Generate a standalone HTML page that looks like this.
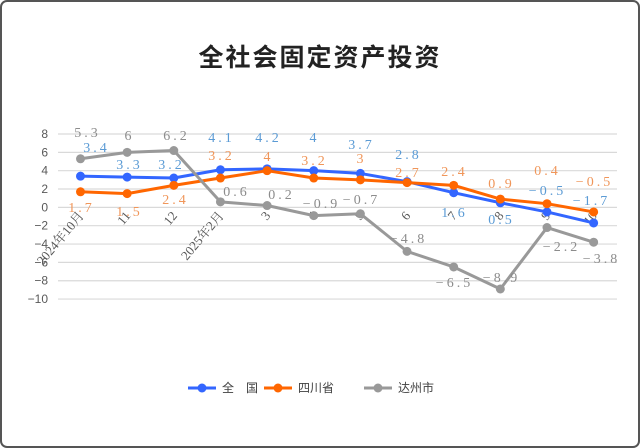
<!DOCTYPE html>
<html><head><meta charset="utf-8"><style>
body{margin:0;background:#fff}
svg{display:block;font-family:"Liberation Sans","Noto Sans CJK SC",sans-serif}
</style></head><body>
<svg width="640" height="448" viewBox="0 0 640 448" xmlns="http://www.w3.org/2000/svg">
<rect x="1" y="1" width="638" height="446" rx="6" fill="#fff" stroke="#555" stroke-width="2"/>
<text x="320" y="66" text-anchor="middle" font-size="25" font-weight="bold" fill="#222" font-family="'Noto Sans CJK SC',sans-serif" letter-spacing="2">全社会固定资产投资</text>
<g id="grid" stroke="#d9d9d9" stroke-width="1.2"></g>
<g id="ylab" font-size="12" fill="#595959" text-anchor="end"></g>
<g id="xlab" font-size="13" fill="#595959" text-anchor="end" font-family="'Liberation Serif','Noto Serif CJK SC',serif"></g>
<g id="series"></g>
<g id="labels" font-size="14" letter-spacing="3" font-family="'Liberation Serif','Noto Serif CJK SC',serif"></g>
<g font-size="12" fill="#404040">
<line x1="188" y1="388" x2="216" y2="388" stroke="#3366FF" stroke-width="3"/><circle cx="202" cy="388" r="4.5" fill="#3366FF"/>
<text x="222" y="392" font-family="'Noto Sans CJK SC',sans-serif">全　国</text>
<line x1="264" y1="388" x2="292" y2="388" stroke="#FF6600" stroke-width="3"/><circle cx="278" cy="388" r="4.5" fill="#FF6600"/>
<text x="298" y="392" font-family="'Noto Sans CJK SC',sans-serif">四川省</text>
<line x1="364" y1="388" x2="392" y2="388" stroke="#999" stroke-width="3"/><circle cx="378" cy="388" r="4.5" fill="#999"/>
<text x="398" y="392" font-family="'Noto Sans CJK SC',sans-serif">达州市</text>
</g>
</svg>
<script>
const NS="http://www.w3.org/2000/svg";
function el(p,t,a,txt){const e=document.createElementNS(NS,t);for(const k in a)e.setAttribute(k,a[k]);if(txt!==undefined)e.textContent=txt;document.getElementById(p).appendChild(e);return e;}
const Y=v=>134+(8-v)*9.17;
const X=i=>80.5+i*46.65;
for(let v=8;v>=-10;v-=2){el("grid","line",{x1:58,x2:617,y1:Y(v),y2:Y(v)});el("ylab","text",{x:48,y:Y(v)+4},v<0?"−"+(-v):v);}
const cats=["2024年10月","11","12","2025年2月","3","4","5","6","7","8","9","10"];
cats.forEach((c,i)=>el("xlab","text",{x:X(i)+4,y:216,transform:`rotate(-50 ${X(i)+4} 216)`},c));
const S=[
{c:"#3366FF",lc:"#5B9BD5",d:[3.4,3.3,3.2,4.1,4.2,4,3.7,2.8,1.6,0.5,-0.5,-1.7],
 L:[[95,147],[128,164],[170,164],[220,137],[267,137],[313,137],[360,144],[407,154],[453,212],[500,219],[546,190],[590,200]]},
{c:"#FF6600",lc:"#F0965A",d:[1.7,1.5,2.4,3.2,4,3.2,3,2.7,2.4,0.9,0.4,-0.5],
 L:[[80,207],[128,211],[174,199],[220,155],[267,156],[313,160],[360,158],[407,172],[453,171],[500,183],[546,170],[593,181]]},
{c:"#999999",lc:"#8C8C8C",d:[5.3,6,6.2,0.6,0.2,-0.9,-0.7,-4.8,-6.5,-8.9,-2.2,-3.8],
 L:[[86,132],[128,135],[175,135],[235,191],[280,194],[320,203],[360,199],[407,238],[453,282],[500,277],[560,246],[600,258]]}];
S.forEach((s,k)=>{
 el("series","polyline",{points:s.d.map((v,i)=>X(i)+","+Y(v)).join(" "),fill:"none",stroke:s.c,"stroke-width":3,"stroke-linejoin":"round"});
 s.d.forEach((v,i)=>el("series","circle",{cx:X(i),cy:Y(v),r:4.5,fill:s.c}));
});
S.forEach(s=>s.d.forEach((v,i)=>el("labels","text",{x:s.L[i][0]+1.5,y:s.L[i][1]+5,"text-anchor":"middle",fill:s.lc},(v<0?"−"+(-v):""+v))));
</script>
</body></html>
